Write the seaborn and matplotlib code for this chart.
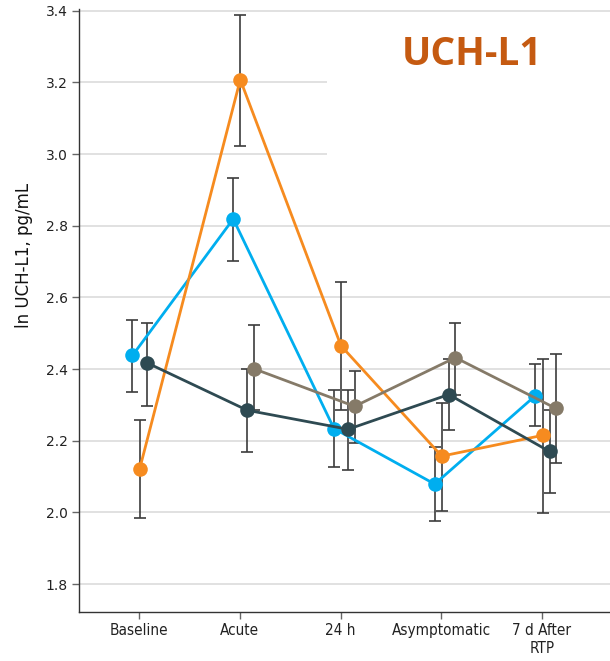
import numpy as np
import pandas as pd
import matplotlib
matplotlib.use("Agg")
import matplotlib.pyplot as plt
import seaborn as sns
from matplotlib.patches import Rectangle

# Time points and group series (log-transformed UCH-L1, mean and 95% CI)
timepoints = ["Baseline", "Acute", "24 h", "Asymptomatic", "7 d After\nRTP"]
groups = ["Group 1", "Group 2", "Group 3", "Group 4"]

g1_mean = [2.438, 2.819, 2.234, 2.079, 2.326]
g1_lo = [2.337, 2.702, 2.126, 1.976, 2.240]
g1_hi = [2.538, 2.933, 2.343, 2.182, 2.415]

g2_mean = [2.120, 3.208, 2.465, 2.157, 2.215]
g2_lo = [1.984, 3.024, 2.287, 2.004, 1.998]
g2_hi = [2.257, 3.389, 2.643, 2.304, 2.429]

g3_mean = [2.418, 2.285, 2.232, 2.329, 2.170]
g3_lo = [2.298, 2.168, 2.118, 2.229, 2.054]
g3_hi = [2.529, 2.401, 2.343, 2.429, 2.285]

g4_mean = [np.nan, 2.401, 2.296, 2.432, 2.290]
g4_lo = [np.nan, 2.285, 2.193, 2.329, 2.137]
g4_hi = [np.nan, 2.524, 2.396, 2.529, 2.443]

colors = ["#00AEEF", "#F68B1F", "#2E4A52", "#857A68"]
offsets = [-0.065, 0.005, 0.075, 0.14]

means = [g1_mean, g2_mean, g3_mean, g4_mean]
los = [g1_lo, g2_lo, g3_lo, g4_lo]
his = [g1_hi, g2_hi, g3_hi, g4_hi]

rows = []
for g, off, m, lo, hi in zip(groups, offsets, means, los, his):
    for i, t in enumerate(timepoints):
        rows.append({"group": g, "time": t, "x": i + off,
                     "mean": m[i], "lo": lo[i], "hi": hi[i]})
df = pd.DataFrame(rows)

sns.set_theme(style="white")
plt.rcParams["font.family"] = ["DejaVu Sans"]

fig = plt.figure(figsize=(6.10, 6.61), dpi=100)
ax = fig.add_axes([79 / 610, 1 - 612 / 661, 531 / 610, 603 / 661])

# horizontal gridlines
ax.set_ylim(1.722, 3.405)
ax.set_xlim(-0.596, 4.675)
ax.set_yticks([1.8, 2.0, 2.2, 2.4, 2.6, 2.8, 3.0, 3.2, 3.4])
ax.yaxis.grid(True, color="#dcdcdc", linewidth=1.2, zorder=0)
ax.set_axisbelow(True)

# white panel behind the title
ax.add_patch(Rectangle((0.467, 0.69), 0.54, 0.29, transform=ax.transAxes,
                       facecolor="white", edgecolor="none", zorder=1))

# confidence intervals
for g, c in zip(groups, colors):
    sub = df[df["group"] == g].dropna()
    ax.errorbar(sub["x"], sub["mean"],
                yerr=[sub["mean"] - sub["lo"], sub["hi"] - sub["mean"]],
                fmt="none", ecolor="#3c3c3c", elinewidth=1.2,
                capsize=4.5, capthick=1.2, zorder=2)

sns.lineplot(data=df.dropna(), x="x", y="mean", hue="group", palette=colors,
             marker="o", markersize=10.5, markeredgewidth=0, linewidth=2,
             legend=False, ax=ax, zorder=3, sort=True)

ax.set_xticks(range(len(timepoints)))
ax.set_xticklabels(timepoints, family=["DejaVu Sans"], fontstretch="condensed",
                   fontsize=11, color="#222222", linespacing=1.2)
ax.set_yticklabels([f"{v:.1f}" for v in ax.get_yticks()], fontsize=10,
                   color="#222222")
ax.tick_params(axis="both", which="major", length=5, width=1,
               color="#666666", pad=3, left=True, bottom=True)
ax.set_xlabel("")
ax.set_ylabel("ln UCH-L1, pg/mL", fontsize=12, color="#111111")
ax.yaxis.set_label_coords(-0.087, 0.592)

for side in ["top", "right"]:
    ax.spines[side].set_visible(False)
for side in ["left", "bottom"]:
    ax.spines[side].set_color("#333333")
    ax.spines[side].set_linewidth(1.0)

fig.text(0.774, 0.917, "UCH-L1", ha="center", va="center", fontsize=28,
         fontweight="bold", color="#C55A11", family=["Open Sans", "DejaVu Sans"])

fig.savefig("out.png", dpi=100)
